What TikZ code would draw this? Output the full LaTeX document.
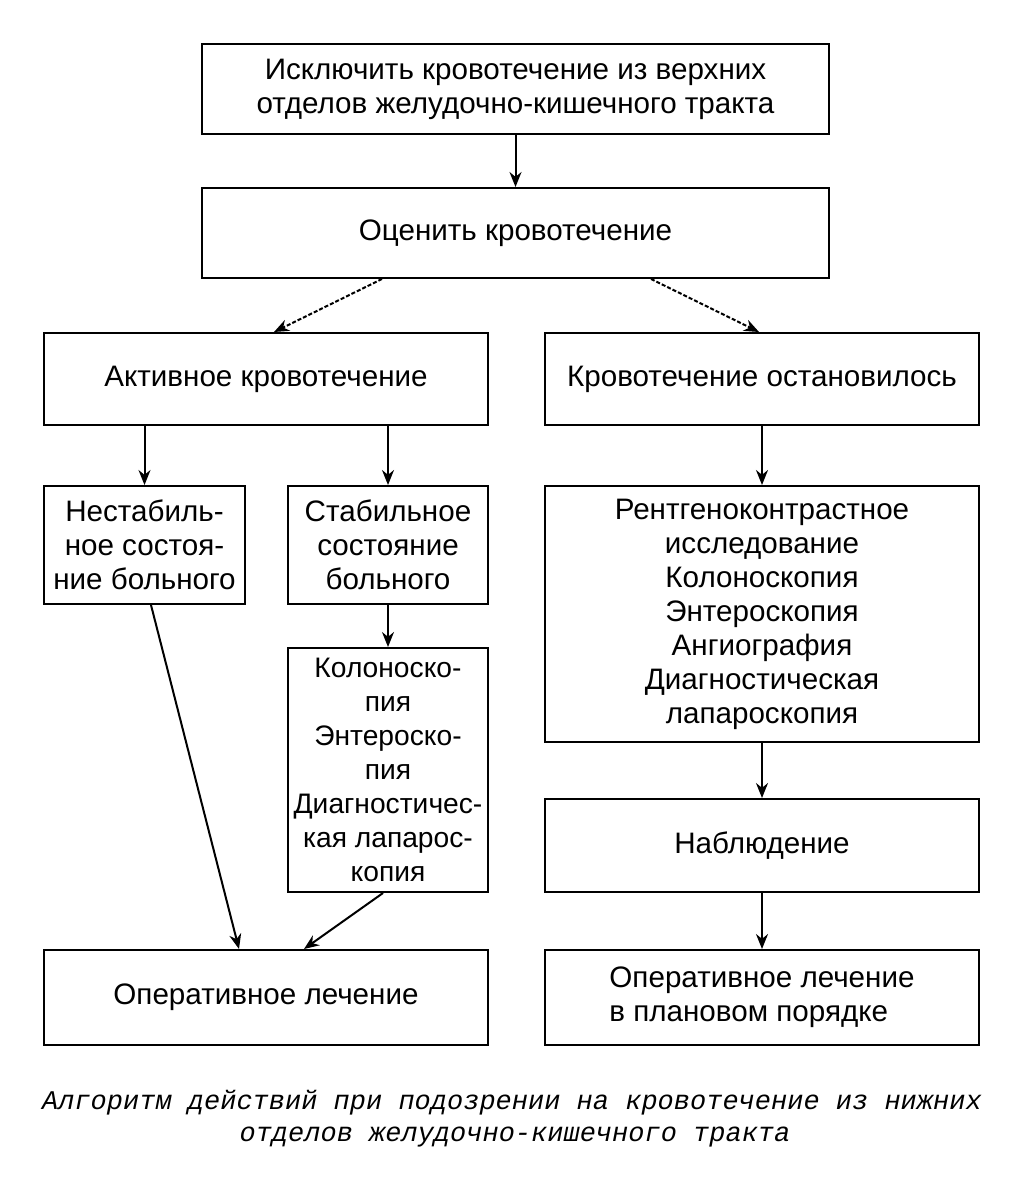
\documentclass[tikz,border=0pt]{standalone}
\usepackage{fontspec}
\setmainfont{Liberation Sans}
\newfontfamily\capfont{Liberation Mono}
\usetikzlibrary{arrows.meta}
\begin{document}
\begin{tikzpicture}[x=1pt,y=-1pt,
  box/.style={draw,line width=2pt,inner sep=0pt,align=center,
    font=\fontsize{29.6}{34}\selectfont},
  conn/.style={line width=2pt,-{Stealth[length=15pt,width=12pt]}},
  dconn/.style={conn,dash pattern=on 4pt off 2pt},
  captext/.style={font=\capfont\itshape\fontsize{27}{34}\selectfont}]
\useasboundingbox[fill=white] (0,0) rectangle (1024,1188);
\node[box,minimum width=627pt,minimum height=90pt] (top) at (515.5,89)
  {Исключить кровотечение из верхних\\отделов желудочно-кишечного тракта};
\node[box,minimum width=627pt,minimum height=90pt] (eval) at (515.5,233)
  {Оценить кровотечение};
\node[box,minimum width=444pt,minimum height=92pt] (active) at (266,379)
  {Активное кровотечение};
\node[box,minimum width=434pt,minimum height=92pt] (stopped) at (762,379)
  {Кровотечение остановилось};
\node[box,minimum width=201pt,minimum height=118pt] (unstable) at (144.5,545)
  {Нестабиль-\\ное состоя-\\ние больного};
\node[box,minimum width=200pt,minimum height=118pt] (stable) at (388,545)
  {Стабильное\\состояние\\больного};
\node[box,minimum width=434pt,minimum height=256pt] (rdiag) at (762,614)
  {Рентгеноконтрастное\\исследование\\Колоноскопия\\Энтероскопия\\Ангиография\\Диагностическая\\лапароскопия};
\node[box,minimum width=200pt,minimum height=244pt,font=\fontsize{28.2}{34}\selectfont] (colono) at (388,770)
  {Колоноско-\\пия\\Энтероско-\\пия\\Диагностичес-\\кая лапарос-\\копия};
\node[box,minimum width=434pt,minimum height=93pt] (observe) at (762,845.5)
  {Наблюдение};
\node[box,minimum width=444pt,minimum height=95pt] (oper) at (266,997.5)
  {Оперативное лечение};
\node[box,minimum width=434pt,minimum height=95pt,align=left] (oper2) at (762,997.5)
  {Оперативное лечение\\в плановом порядке};
\draw[conn] (top.south) -- (eval.north);
\draw[dconn] ([xshift=181pt]eval.south west) -- ([xshift=231pt]active.north west);
\draw[dconn] ([xshift=450pt]eval.south west) -- ([xshift=215pt]stopped.north west);
\draw[conn] (active.south -| unstable.north) -- (unstable.north);
\draw[conn] (active.south -| stable.north) -- (stable.north);
\draw[conn] (stopped.south) -- (rdiag.north);
\draw[conn] (stable.south) -- (colono.north);
\draw[conn] (rdiag.south) -- (observe.north);
\draw[conn] (observe.south) -- (oper2.north);
\draw[conn] ([xshift=6.5pt]unstable.south) -- ([xshift=196pt]oper.north west);
\draw[conn] ([xshift=-5pt]colono.south) -- ([xshift=261pt]oper.north west);
\node[captext] (cap1) at (512,1103) {Алгоритм действий при подозрении на кровотечение из нижних};
\node[captext] (cap2) at (515,1137) {отделов желудочно-кишечного тракта};
\end{tikzpicture}
\end{document}
